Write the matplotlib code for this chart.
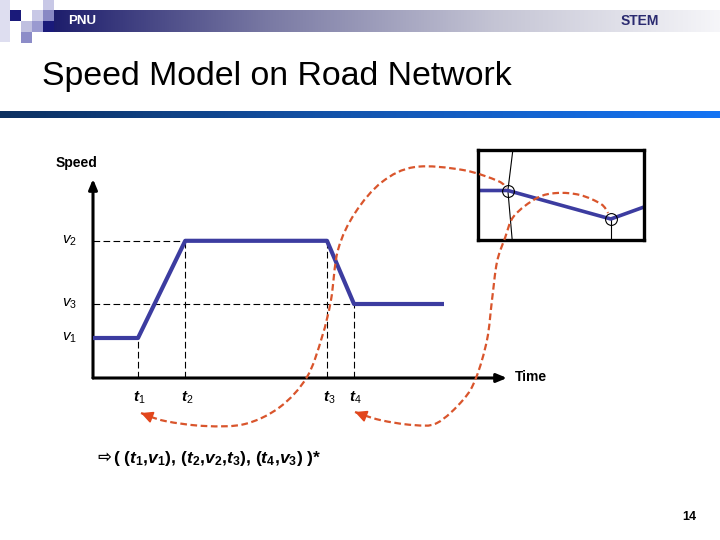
import numpy as np
import matplotlib
matplotlib.use('Agg')
import matplotlib.pyplot as plt
from matplotlib.colors import LinearSegmentedColormap
from matplotlib.patches import Rectangle, PathPatch
from matplotlib.path import Path

plt.rcParams['font.family'] = ['Liberation Sans', 'DejaVu Sans']
plt.rcParams['mathtext.fontset'] = 'custom'
plt.rcParams['mathtext.rm'] = 'Liberation Sans'
plt.rcParams['mathtext.it'] = 'Liberation Sans:italic'
plt.rcParams['mathtext.bf'] = 'Liberation Sans:bold'
plt.rcParams['mathtext.bfit'] = 'Liberation Sans:italic:bold'

# speed profile on one road segment (time units / speed units)
prof_t = [0, 1.0, 2.05, 5.2, 5.8, 7.8]
prof_v = [1.0, 1.0, 3.43, 3.43, 1.85, 1.85]
t_names = ['1', '2', '3', '4']
t_marks = [1.0, 2.05, 5.2, 5.8]
v_names = ['1', '2', '3']
v_marks = [1.0, 3.43, 1.85]

# inset: speed along the road, two probe samples circled
inset_t = [0, 0.9, 4.0, 5.0]
inset_v = [1.65, 1.65, 0.7, 1.1]
probe_t = [0.9, 4.0]
probe_v = [1.65, 0.7]

blue = '#3c3ca0'
orange = '#d9552c'

fig = plt.figure(figsize=(7.2, 5.4), dpi=100)

# ---- slide background (pixel coords) ----
bg = fig.add_axes([0, 0, 1, 1])
head = LinearSegmentedColormap.from_list('head', ['#1a1a6a', '#7a7aa4', '#c4c4d4', '#f6f6f9'])
bg.imshow(np.linspace(0, 1, 256)[None, :], cmap=head, extent=(44, 720, 32, 10), aspect='auto')
rule = LinearSegmentedColormap.from_list('rule', ['#0c3060', '#1456b0', '#1574f4'])
bg.imshow(np.linspace(0, 1, 256)[None, :], cmap=rule, extent=(0, 720, 118, 111), aspect='auto')
squares = [(0, 0, 10, 42, '#dedef0'), (32, 10, 11, 11, '#c8c8e6'), (43, 0, 11, 10, '#c8c8e6'),
           (21, 21, 11, 11, '#c0c0e0'), (21, 32, 11, 11, '#8c8cc8'), (32, 21, 11, 11, '#9a9ad0'),
           (43, 10, 11, 11, '#8888c4'), (10, 10, 11, 11, '#1a1a7a'), (43, 21, 11, 11, '#1a1a7a')]
for x0, y0, w, h, c in squares:
    bg.add_patch(Rectangle((x0, y0), w, h, color=c, lw=0))
bg.set_xlim(0, 720)
bg.set_ylim(540, 0)
bg.axis('off')
bg.text(68, 21, 'PNU', color='white', fontsize=9.5, fontweight='bold', va='center')
bg.text(621, 21, 'STEM', color='#2a2a70', fontsize=10, fontweight='bold', va='center')
bg.text(42, 76, 'Speed Model on Road Network', fontsize=24.4, va='center')
bg.text(689, 517, '14', fontsize=9, fontweight='bold', ha='center', va='center')
bg.text(97, 458, '⇨', family='DejaVu Sans', fontsize=12, fontweight='bold', va='center')
bg.text(113, 458, r'( ($\mathbfit{t}_\mathbf{1}$,$\mathbfit{v}_\mathbf{1}$), '
        r'($\mathbfit{t}_\mathbf{2}$,$\mathbfit{v}_\mathbf{2}$,$\mathbfit{t}_\mathbf{3}$), '
        r'($\mathbfit{t}_\mathbf{4}$,$\mathbfit{v}_\mathbf{3}$) )*',
        fontsize=12.6, fontweight='bold', va='center')

# ---- speed / time chart ----
ax = fig.add_axes([93 / 720, 162 / 540, 414 / 720, 199 / 540])
ax.set_xlim(0, 9.2)
ax.set_ylim(0, 4.975)
ax.axis('off')
ax.set_facecolor('none')
for xy in [(9.2, 0), (0, 4.975)]:
    ax.annotate('', xy=xy, xytext=(0, 0), annotation_clip=False,
                arrowprops=dict(arrowstyle='-|>,head_length=0.6,head_width=0.25', lw=2.2,
                                color='k', shrinkA=0, shrinkB=0))
dash = dict(color='k', lw=0.8, ls=(0, (6, 3)))
for t, v in zip(prof_t[1:5], prof_v[1:5]):
    ax.plot([t, t], [0, v], **dash)
for v in v_marks:
    i = prof_v.index(v)
    if i > 0:
        ax.plot([0, prof_t[i]], [v, v], **dash)
ax.plot(prof_t, prof_v, color=blue, lw=3, solid_capstyle='butt', zorder=3)
for name, v in zip(v_names, v_marks):
    ax.text(-0.69, v, r'$\mathit{v}_%s$' % name, fontsize=11, ha='left', va='center')
for name, t in zip(t_names, t_marks):
    ax.text(t + 0.04, -0.5, r'$\mathbfit{t}_%s$' % name, fontsize=11, ha='center', va='center')
ax.text(-0.84, 5.375, 'Speed', fontsize=10, fontweight='bold', va='center')
ax.text(9.38, 0.02, 'Time', fontsize=10, fontweight='bold', va='center')

# ---- inset ----
ins = fig.add_axes([478 / 720, 300 / 540, 166 / 720, 90 / 540])
ins.set_xlim(0, 5)
ins.set_ylim(0, 3)
ins.set_xticks([])
ins.set_yticks([])
for s in ins.spines.values():
    s.set_linewidth(2.4)
ins.plot([1.05, probe_t[0], 1.03], [3, probe_v[0], 0], color='k', lw=0.8)
ins.plot([probe_t[1], probe_t[1]], [probe_v[1], 0], color='k', lw=0.8)
ins.plot(inset_t, inset_v, color=blue, lw=2.6)
ins.plot(probe_t, probe_v, 'o', ms=8.5, mfc='none', mec='k', mew=0.8)

# ---- dashed link curves (pixel coords) ----
fg = fig.add_axes([0, 0, 1, 1], zorder=10)
fg.set_xlim(0, 720)
fg.set_ylim(540, 0)
fg.axis('off')
fg.patch.set_alpha(0)


def smooth_path(pts):
    pts = np.asarray(pts, float)
    n = len(pts)
    verts, codes = [pts[0]], [Path.MOVETO]
    for i in range(n - 1):
        p0, p1, p2, p3 = pts[max(i - 1, 0)], pts[i], pts[i + 1], pts[min(i + 2, n - 1)]
        verts += [p1 + (p2 - p0) / 6, p2 - (p3 - p1) / 6, p2]
        codes += [Path.CURVE4] * 3
    return Path(verts, codes)


curve_a = [(141, 413), (165, 421), (205, 426), (245, 424), (280, 407), (307, 377), (322, 337),
           (331, 300), (338, 250), (355, 213), (382, 182), (415, 167), (463, 170), (498, 181),
           (506, 188)]
curve_b = [(355, 412), (380, 420), (413, 425), (437, 423), (463, 400), (476, 378), (487, 340),
           (492, 300), (497, 262), (505, 238), (514, 216), (537, 198), (557, 193), (580, 195),
           (601, 204), (608, 213)]
for pts in (curve_a, curve_b):
    fg.add_patch(PathPatch(smooth_path(pts), fill=False, ec=orange, lw=1.6, ls=(0, (3, 1.6))))
    fg.annotate('', xy=pts[0], xytext=(pts[0][0] + 9, pts[0][1] + 3.5),
                arrowprops=dict(arrowstyle='-|>,head_length=0.7,head_width=0.35', lw=1.2,
                                color='#e2461c', shrinkA=0, shrinkB=0))

fig.savefig('out.png', dpi=100)
